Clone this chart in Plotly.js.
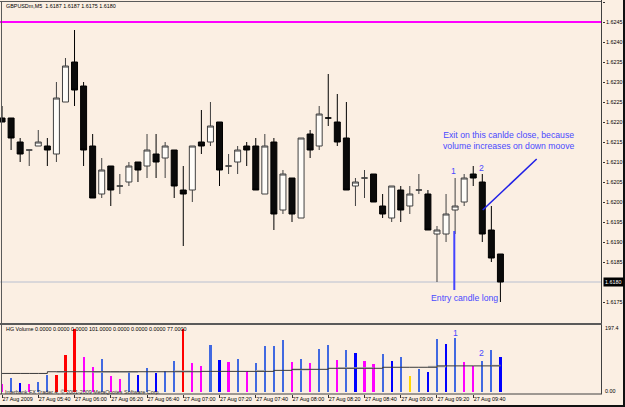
<!DOCTYPE html>
<html><head><meta charset="utf-8">
<script src="https://cdn.plot.ly/plotly-3.0.1.min.js"></script>
<style>html,body{margin:0;padding:0;background:#fbefe3;}#chart{width:625px;height:407px;}</style>
</head><body><div id="chart"></div>
<script>
const bars = ['05:20','05:25','05:30','05:35','05:40','05:45','05:50','05:55',
 '06:00','06:05','06:10','06:15','06:20','06:25','06:30','06:35','06:40','06:45','06:50','06:55',
 '07:00','07:05','07:10','07:15','07:20','07:25','07:30','07:35','07:40','07:45','07:50','07:55',
 '08:00','08:05','08:10','08:15','08:20','08:25','08:30','08:35','08:40','08:45','08:50','08:55',
 '09:00','09:05','09:10','09:15','09:20','09:25','09:30','09:35','09:40','09:45','09:50','09:55'];
const open  = [1.6221,1.6221,1.6215,1.6213,1.6214,1.6214,1.6212,1.6225,1.6235,1.6229,1.6214,1.6202,1.6209,1.6204,1.6205,1.6210,1.6209,1.6212,1.6211,1.6213,1.6203,1.6203,1.6215,1.6215,1.6220,1.6209,1.6210,1.6214,1.6214,1.6202,1.6215,1.6198,1.6206,1.6196,1.6217,1.6214,1.6221,1.6220,1.6216,1.6204,1.6206,1.6207,1.6199,1.6196,1.6203,1.6199,1.6203,1.6202,1.6192,1.6192,1.6198,1.6200,1.6207,1.6205,1.6193,1.6187];
const high  = [1.6224,1.6221,1.6216,1.6213,1.6218,1.6216,1.6230,1.6236,1.6243,1.6230,1.6217,1.6211,1.6209,1.6207,1.6210,1.6210,1.6217,1.6217,1.6215,1.6213,1.6209,1.6214,1.6223,1.6225,1.6220,1.6212,1.6214,1.6215,1.6216,1.6217,1.6216,1.6208,1.6206,1.6216,1.6218,1.6224,1.6232,1.6227,1.6225,1.6206,1.6208,1.6207,1.6202,1.6204,1.6204,1.6204,1.6207,1.6203,1.6194,1.6202,1.6206,1.6207,1.6209,1.6207,1.6199,1.6187];
const low   = [1.6220,1.6213,1.6210,1.6209,1.6214,1.6209,1.6210,1.6225,1.6224,1.6209,1.6201,1.6201,1.6199,1.6202,1.6204,1.6205,1.6206,1.6206,1.6206,1.6201,1.6189,1.6200,1.6212,1.6214,1.6204,1.6207,1.6207,1.6209,1.6203,1.6202,1.6193,1.6197,1.6195,1.6196,1.6211,1.6213,1.6219,1.6214,1.6203,1.6199,1.6201,1.6200,1.6196,1.6195,1.6195,1.6197,1.6202,1.6193,1.6180,1.6190,1.6192,1.6199,1.6204,1.6190,1.6185,1.6175];
const close = [1.6220,1.6216,1.6212,1.6213,1.6215,1.6213,1.6226,1.6234,1.6228,1.6213,1.6201,1.6208,1.6203,1.6204,1.6209,1.6208,1.6213,1.6210,1.6214,1.6204,1.6202,1.6214,1.6214,1.6219,1.6208,1.6209,1.6213,1.6213,1.6203,1.6214,1.6197,1.6207,1.6197,1.6216,1.6213,1.6222,1.6221,1.6215,1.6203,1.6205,1.6206,1.6200,1.6197,1.6204,1.6198,1.6202,1.6203,1.6193,1.6193,1.6197,1.6199,1.6206,1.6206,1.6192,1.6186,1.6180];
const volume = [23,41,26,24,29,50,50,108,183,102,72,96,47,37,61,50,70,54,60,90,183,84,75,137,92,86,97,62,85,134,135,151,88,97,85,124,137,92,122,114,89,82,110,89,103,48,67,59,153,139,158,86,76,90,122,101];
// HG Volume bar class: R=red, M=magenta, L=light blue, D=dark blue, Y=yellow
const volClass = ['M','L','D','M','L','L','R','R','R','M','M','L','M','M','L','D','L','D','L','L','R','M','M','L','D','M','L','M','L','L','L','L','M','L','M','L','L','M','L','D','M','M','L','D','L','Y','L','D','L','D','L','M','M','L','L','D'];
const volMA = [54,54,54,54,54,59,59,59,59,59,59,59,59,59,59,59,59,59,59,59,59,59,60,60,60,60,60,60,60,60,63,63,66,66,66,66,69,69,69,69,69,69,72,72,72,72,72,72,76,76,76,76,76,76,76,76];
const volMA2 = [null,null,null,null,null,null,59,59,null,null,58,58,58,58,58,58,null,null,null,60.5,60.5,60.5,null,null,null,null,null,null,62,62,null,null,65,65,65,null,null,70,70,70,70,70,null,null,null,null,null,74,74,74,null,null,null,null,77,77];
const hgValues = [0,0,0,101,0,0,0,77];
const volScaleMax = 197.4;
const tickBars = ['05:20','05:40','06:00','06:20','06:40','07:00','07:20','07:40','08:00','08:20','08:40','09:00','09:20','09:40'];
const tickLabels = ['27 Aug 2009','27 Aug 05:40','27 Aug 06:00','27 Aug 06:20','27 Aug 06:40','27 Aug 07:00','27 Aug 07:20','27 Aug 07:40','27 Aug 08:00','27 Aug 08:20','27 Aug 08:40','27 Aug 09:00','27 Aug 09:20','27 Aug 09:40'];
const priceTicks = [1.6250,1.6245,1.6240,1.6235,1.6230,1.6225,1.6220,1.6215,1.6210,1.6205,1.6200,1.6195,1.6190,1.6185,1.6175];
const levelLine = 1.6245;
const symbol = 'GBPUSDm,M5';

const FONT = 'Liberation Sans, Arial, sans-serif';
const colorMap = {R:'#ff0000', M:'#ff00ff', L:'#4169e1', D:'#0000ff', Y:'#ffd700'};
const n = close.length - 1;
const PW = 602, TOP = 1, BOT = 394, H = BOT - TOP;
const xp = p => p / PW;
const yp = p => (BOT - p) / H;

const traces = [
 {type:'candlestick', x:bars, open:open, high:high, low:low, close:close, xaxis:'x', yaxis:'y',
  increasing:{line:{color:'#404040', width:1}, fillcolor:'#fffdf9'},
  decreasing:{line:{color:'#000000', width:1}, fillcolor:'#0a0a0a'},
  whiskerwidth:0, hoverinfo:'skip'},
 {type:'bar', x:bars, y:volume, xaxis:'x', yaxis:'y2', width:0.24,
  marker:{color:volClass.map(c=>colorMap[c]), line:{width:0}}, hoverinfo:'skip'},
 {type:'scatter', mode:'lines', x:bars, y:volMA2, xaxis:'x', yaxis:'y2', connectgaps:false,
  line:{color:'#b4b4b4', width:1.5}, hoverinfo:'skip'},
 {type:'scatter', mode:'lines', x:bars, y:volMA, xaxis:'x', yaxis:'y2',
  line:{color:'#3a3a3a', width:1, shape:'hv'}, hoverinfo:'skip'}
];

const frame = '#5a5a5a';
const shapes = [
 {type:'line', xref:'paper', yref:'y', x0:0, x1:1, y0:levelLine, y1:levelLine, line:{color:'#ff00ff', width:2}},
 {type:'line', xref:'paper', yref:'y', x0:0, x1:1, y0:close[n], y1:close[n], line:{color:'#b8bfd0', width:1}, layer:'below'},
 {type:'line', xref:'paper', yref:'y', x0:xp(482.7), y0:1.6198, x1:xp(536.7), y1:1.621075, line:{color:'#1f1fe6', width:1.5}},
 {type:'line', xref:'paper', yref:'y', x0:xp(454.3), y0:1.619275, x1:xp(454.3), y1:1.6178, line:{color:'#4444ff', width:2}},
 {type:'line', xref:'paper', yref:'paper', x0:0, x1:1, y0:yp(1.5), y1:yp(1.5), line:{color:frame, width:1}},
 {type:'line', xref:'paper', yref:'paper', x0:xp(1.5), x1:xp(1.5), y0:yp(1), y1:0, line:{color:frame, width:1}},
 {type:'line', xref:'paper', yref:'paper', x0:xp(601.5), x1:xp(601.5), y0:yp(0), y1:0, line:{color:'#404040', width:1}},
 {type:'line', xref:'paper', yref:'paper', x0:0, x1:1, y0:yp(324), y1:yp(324), line:{color:frame, width:2}},
 {type:'line', xref:'paper', yref:'paper', x0:0, x1:1, y0:0, y1:0, line:{color:'#404040', width:1}},
 {type:'line', xref:'paper', yref:'paper', x0:0, x1:xp(625), y0:yp(406), y1:yp(406), line:{color:'#111', width:2}},
 {type:'line', xref:'paper', yref:'paper', x0:xp(624), x1:xp(624), y0:yp(407), y1:yp(0), line:{color:'#111', width:2}}
];

const small = {family:FONT, size:5.4, color:'#000'};
const blue = {family:FONT, size:8.7, color:'#4a4aff'};
const annotations = [
 {xref:'paper', yref:'paper', x:xp(4), y:yp(6), xanchor:'left', yanchor:'middle', showarrow:false, font:small,
  text: symbol + '  ' + [open[n], high[n], low[n], close[n]].map(v=>v.toFixed(4)).join(' ')},
 {xref:'paper', yref:'paper', x:xp(4), y:yp(329), xanchor:'left', yanchor:'middle', showarrow:false, font:small,
  text: 'HG Volume ' + hgValues.map(v=>v.toFixed(4)).join(' ')},
 {xref:'paper', yref:'paper', x:xp(3), y:yp(391.5), xanchor:'left', yanchor:'middle', showarrow:false, font:{family:FONT, size:5.4, color:'#303030'},
  text: 'Interbank FX Trader 4, © 2001-2009 MetaQuotes Software Corp.'},
 {xref:'paper', yref:'y', x:xp(603), y:close[n], xanchor:'left', yanchor:'middle', showarrow:false,
  font:{family:FONT, size:5.4, color:'#ffffff'}, bgcolor:'#000000', borderpad:1, text: close[n].toFixed(4)},
 {xref:'paper', yref:'paper', x:xp(603), y:yp(327.7), xanchor:'left', yanchor:'middle', showarrow:false, font:small, text: volScaleMax.toFixed(1)},
 {xref:'paper', yref:'paper', x:xp(603), y:yp(391), xanchor:'left', yanchor:'middle', showarrow:false, font:small, text: (0).toFixed(2)},
 {xref:'paper', yref:'y', x:xp(509), y:1.62155, xanchor:'center', yanchor:'middle', showarrow:false, font:blue,
  text:'Exit on this canlde close, because<br>volume increases on down moove'},
 {xref:'paper', yref:'y', x:xp(453.7), y:1.6207825, xanchor:'center', yanchor:'middle', showarrow:false, font:blue, text:'1'},
 {xref:'paper', yref:'y', x:xp(481.7), y:1.6208425, xanchor:'center', yanchor:'middle', showarrow:false, font:blue, text:'2'},
 {xref:'paper', yref:'y', x:xp(464), y:1.6176, xanchor:'center', yanchor:'middle', showarrow:false, font:blue, text:'Entry candle long'},
 {xref:'paper', yref:'y2', x:xp(455), y:172.6, xanchor:'center', yanchor:'middle', showarrow:false, font:blue, text:'1'},
 {xref:'paper', yref:'y2', x:xp(481.7), y:112.7, xanchor:'center', yanchor:'middle', showarrow:false, font:blue, text:'2'}
];

const layout = {
 width:625, height:407,
 margin:{l:0, r:625-PW, t:TOP, b:407-BOT, pad:0},
 paper_bgcolor:'#fbefe3', plot_bgcolor:'#fbefe3',
 showlegend:false, dragmode:false,
 boxgap:0.34, boxgroupgap:0, bargap:0,
 xaxis:{type:'category', range:[-0.225, 66.21], anchor:'y2', tickvals:tickBars, ticktext:tickLabels,
  ticks:'outside', ticklen:3, tickwidth:1, tickcolor:'#333', tickfont:small, tickangle:0, ticklabelposition:'outside right',
  ticklabelstandoff:0,
  showgrid:false, zeroline:false, showline:false, rangeslider:{visible:false}, fixedrange:true},
 yaxis:{domain:[yp(323), 1], range:[1.616975, 1.625025], side:'right', anchor:'x',
  tickvals:priceTicks, ticktext:priceTicks.map(v=>v.toFixed(4)), ticks:'outside', ticklen:2, tickcolor:'#333',
  tickfont:small, showgrid:false, zeroline:false, showline:false, fixedrange:true},
 yaxis2:{domain:[0, yp(324)], range:[-5.82, 197.96], side:'right', anchor:'x', showticklabels:false, ticks:'',
  showgrid:false, zeroline:false, showline:false, fixedrange:true},
 shapes:shapes, annotations:annotations
};

Plotly.newPlot('chart', traces, layout, {staticPlot:true, displayModeBar:false});
</script></body></html>
